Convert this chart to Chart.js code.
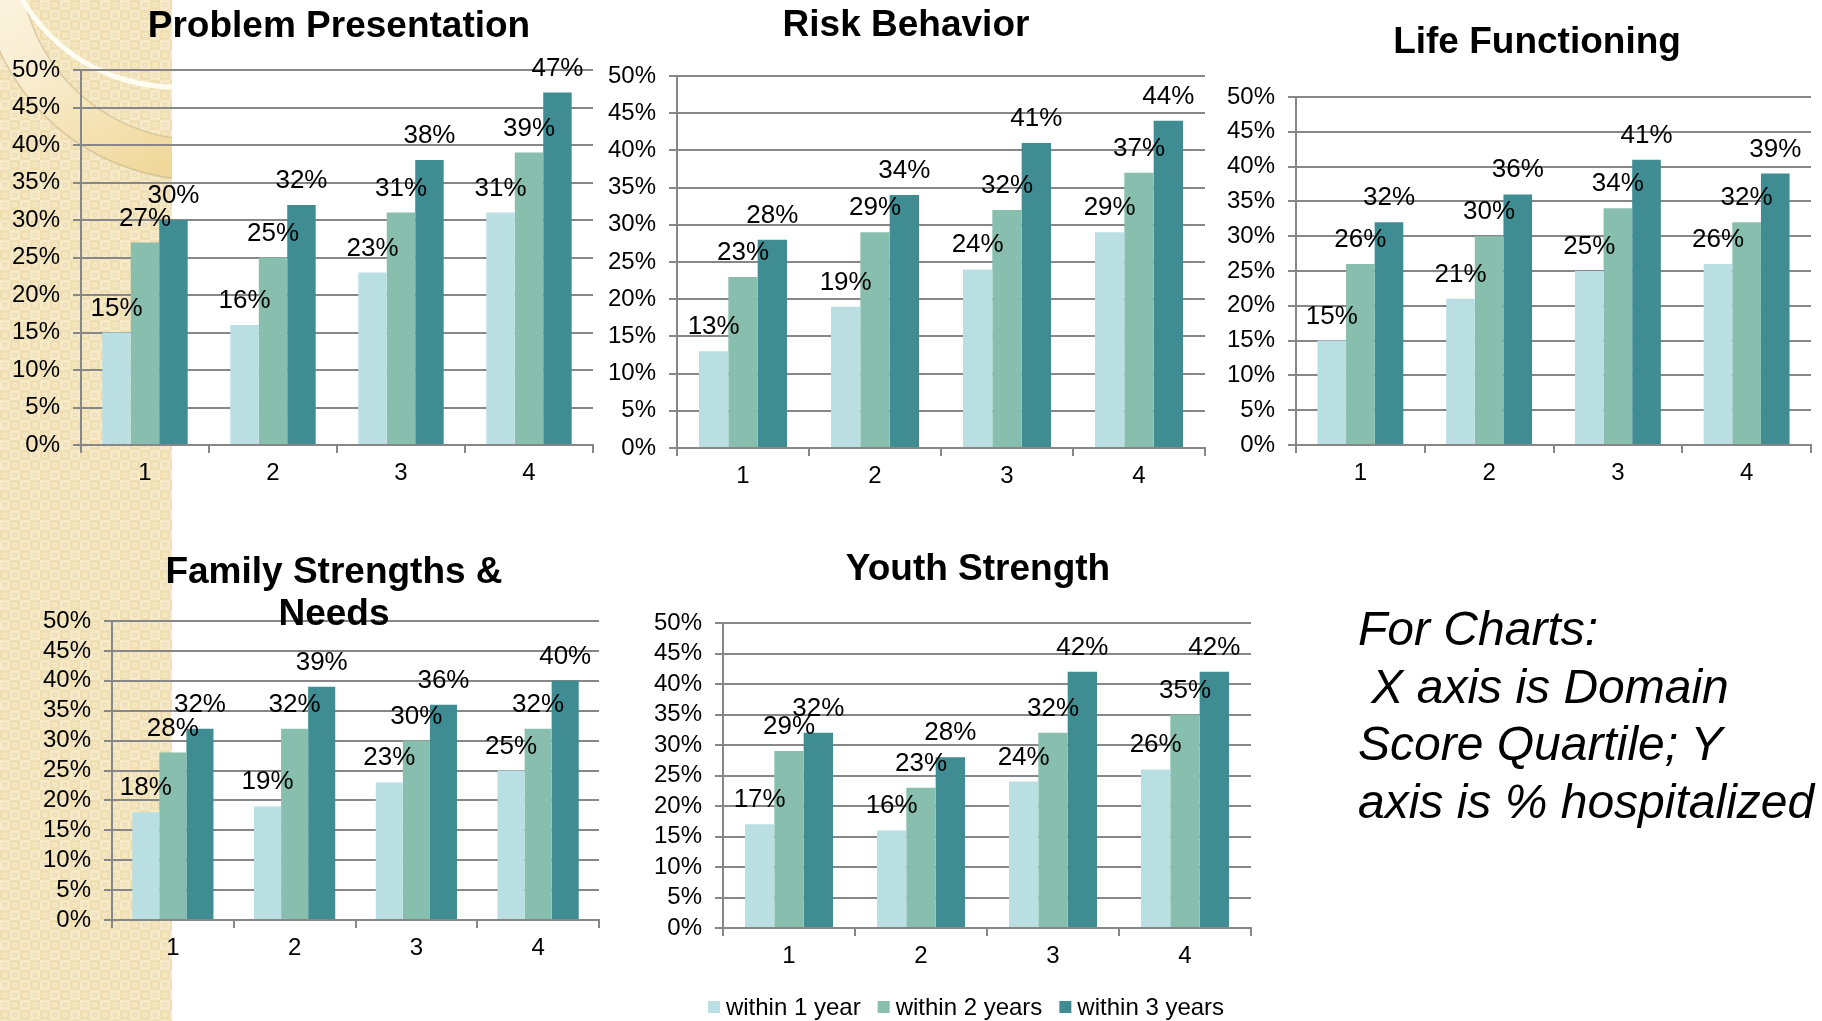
<!DOCTYPE html>
<html>
<head>
<meta charset="utf-8">
<title>Hospitalization by Domain Score Quartile</title>
<script src="https://cdn.jsdelivr.net/npm/chart.js@4/dist/chart.umd.min.js"></script>
<style>
  html, body { margin: 0; padding: 0; background: #ffffff; width: 1822px; height: 1021px; overflow: hidden; }
  canvas { position: absolute; left: 0; top: 0; }
  #note {
    position: absolute; left: 1358px; top: 600px;
    font: italic 48px/57.5px "Liberation Sans", Arial, sans-serif;
    color: #000; white-space: pre;
  }
</style>
</head>
<body>
<canvas id="bg" width="1822" height="1021"></canvas>
<canvas id="chartProblem" width="1822" height="1021"></canvas>
<canvas id="chartRisk" width="1822" height="1021"></canvas>
<canvas id="chartLife" width="1822" height="1021"></canvas>
<canvas id="chartFamily" width="1822" height="1021"></canvas>
<canvas id="chartYouth" width="1822" height="1021"></canvas>
<div id="note">For Charts:
 X axis is Domain
Score Quartile; Y
axis is % hospitalized</div>

<script>
// ---- data: % hospitalized by domain score quartile ----
const quartiles = ['1', '2', '3', '4'];
const seriesNames = ['within 1 year', 'within 2 years', 'within 3 years'];
const yTickStep = 5;
const yMax = 50;

const problem1yr = [15, 16, 23, 31];
const problem2yr = [27, 25, 31, 39];
const problem3yr = [30, 32, 38, 47];

const risk1yr = [13, 19, 24, 29];
const risk2yr = [23, 29, 32, 37];
const risk3yr = [28, 34, 41, 44];

const life1yr = [15, 21, 25, 26];
const life2yr = [26, 30, 34, 32];
const life3yr = [32, 36, 41, 39];

const family1yr = [18, 19, 23, 25];
const family2yr = [28, 32, 30, 32];
const family3yr = [32, 39, 36, 40];

const youth1yr = [17, 16, 24, 26];
const youth2yr = [29, 23, 32, 35];
const youth3yr = [32, 28, 42, 42];

// ---- styling ----
const W = 1822, H = 1021;
const FONT = '"Liberation Sans", Arial, Helvetica, sans-serif';
const seriesColors = ['#B9DFE3', '#88BEAD', '#3F8C93'];
const GRID = '#878787';
const Y_W = 90;   // width reserved for the y axis
const X_H = 60;   // height reserved for the x axis

// ---- background strip with ornament ----
(function drawBackground() {
  const ctx = document.getElementById('bg').getContext('2d');
  const STRIP = 172;
  ctx.save();
  ctx.beginPath(); ctx.rect(0, 0, STRIP, H); ctx.clip();
  ctx.fillStyle = '#F3E4BD';
  ctx.fillRect(0, 0, STRIP, H);
  // small tiled squares
  for (let y = 0; y < H; y += 10) {
    for (let x = 0; x < STRIP; x += 10) {
      const odd = ((x + y) / 10) % 2 === 1;
      ctx.fillStyle = odd ? '#F0DFB3' : '#F6E9C7';
      ctx.fillRect(x, y, 10, 10);
      ctx.strokeStyle = odd ? 'rgba(250,240,214,0.8)' : 'rgba(226,206,160,0.55)';
      ctx.lineWidth = 1;
      ctx.strokeRect(x + 3.5, y + 3.5, 3, 3);
    }
  }
  // ring
  const cx = 200, cy = -40;
  const grad = ctx.createLinearGradient(0, -40, 120, 190);
  grad.addColorStop(0, '#FCF6E6');
  grad.addColorStop(0.5, '#F7EBCB');
  grad.addColorStop(1, '#F0D89A');
  ctx.beginPath();
  ctx.arc(cx, cy, 220, 0, Math.PI * 2);
  ctx.arc(cx, cy, 180, 0, Math.PI * 2, true);
  ctx.fillStyle = grad;
  ctx.fill();
  ctx.strokeStyle = 'rgba(200,180,140,0.6)';
  ctx.lineWidth = 1.5;
  ctx.beginPath(); ctx.arc(cx, cy, 220, 0, Math.PI * 2); ctx.stroke();
  ctx.beginPath(); ctx.arc(cx, cy, 180, 0, Math.PI * 2); ctx.stroke();
  // bright inner arc
  ctx.strokeStyle = 'rgba(255,253,244,0.95)';
  ctx.lineWidth = 5;
  ctx.beginPath(); ctx.arc(175, -90, 177, 0, Math.PI * 2); ctx.stroke();
  ctx.restore();
})();

// ---- plugins ----
const panelTitle = {
  id: 'panelTitle',
  afterDraw(chart, args, o) {
    const ctx = chart.ctx;
    ctx.save();
    ctx.font = 'bold 37px ' + FONT;
    ctx.fillStyle = '#000';
    ctx.textAlign = 'center';
    ctx.textBaseline = 'alphabetic';
    o.lines.forEach((line, i) => ctx.fillText(line, o.x, o.y + i * o.lineHeight));
    ctx.restore();
  }
};

const valueLabels = {
  id: 'valueLabels',
  afterDatasetsDraw(chart, args, o) {
    const ctx = chart.ctx;
    ctx.save();
    ctx.font = '26px ' + FONT;
    ctx.fillStyle = '#000';
    ctx.textAlign = 'center';
    ctx.textBaseline = 'alphabetic';
    chart.data.datasets.forEach((ds, i) => {
      chart.getDatasetMeta(i).data.forEach((bar, j) => {
        ctx.fillText(ds.data[j] + '%', bar.x, bar.y - o.gap);
      });
    });
    ctx.restore();
  }
};

const seriesKey = {
  id: 'seriesKey',
  afterDraw(chart, args, o) {
    if (!o.show) return;
    const ctx = chart.ctx;
    ctx.save();
    ctx.font = '24px ' + FONT;
    ctx.textBaseline = 'middle';
    ctx.textAlign = 'left';
    const box = 12, gap = 6, spacing = 17;
    const items = chart.data.datasets.map(ds => ({ label: ds.label, color: ds.backgroundColor, w: box + gap + ctx.measureText(ds.label).width }));
    const total = items.reduce((s, it) => s + it.w, 0) + spacing * (items.length - 1);
    let x = o.cx - total / 2;
    items.forEach(it => {
      ctx.fillStyle = it.color;
      ctx.fillRect(x, o.cy - box / 2, box, box);
      ctx.fillStyle = '#000';
      ctx.fillText(it.label, x + box + gap, o.cy + 1);
      x += it.w + spacing;
    });
    ctx.restore();
  }
};

// ---- panel builder ----
function makePanel(canvasId, titleLines, titlePos, series, plot, showKey) {
  const tickFont = { family: FONT, size: 24 };
  return new Chart(document.getElementById(canvasId), {
    type: 'bar',
    data: {
      labels: quartiles,
      datasets: seriesNames.map((name, i) => ({
        label: name,
        data: series[i],
        backgroundColor: seriesColors[i],
        borderWidth: 0,
        barPercentage: 1,
        categoryPercentage: 0.667
      }))
    },
    options: {
      responsive: false,
      animation: false,
      devicePixelRatio: 1,
      events: [],
      layout: {
        padding: {
          left: plot.left - Y_W,
          top: plot.top,
          right: W - plot.right,
          bottom: H - plot.bottom - X_H
        }
      },
      plugins: {
        legend: { display: false },
        tooltip: { enabled: false },
        title: { display: false },
        panelTitle: { lines: titleLines, x: titlePos.x, y: titlePos.y, lineHeight: 42 },
        valueLabels: { gap: 17 },
        seriesKey: { show: showKey, cx: 966, cy: 1007 }
      },
      scales: {
        x: {
          offset: true,
          grid: { display: true, offset: true, drawOnChartArea: false, drawTicks: true, tickLength: 8, color: GRID, lineWidth: 2 },
          border: { display: true, color: GRID, width: 2 },
          ticks: { font: tickFont, color: '#000', padding: 6 },
          afterFit: s => { s.height = X_H; }
        },
        y: {
          min: 0,
          max: yMax,
          grid: { color: GRID, lineWidth: 2, drawTicks: true, tickLength: 8 },
          border: { display: true, color: GRID, width: 2 },
          ticks: { stepSize: yTickStep, autoSkip: false, font: tickFont, color: '#000', padding: 13, callback: v => v + '%' },
          afterFit: s => { s.width = Y_W; }
        }
      }
    },
    plugins: [valueLabels, panelTitle, seriesKey]
  });
}

makePanel('chartProblem', ['Problem Presentation'], { x: 339, y: 37 },
  [problem1yr, problem2yr, problem3yr], { left: 81, right: 593, top: 70, bottom: 445 }, false);
makePanel('chartRisk', ['Risk Behavior'], { x: 906, y: 36 },
  [risk1yr, risk2yr, risk3yr], { left: 677, right: 1205, top: 76, bottom: 448 }, false);
makePanel('chartLife', ['Life Functioning'], { x: 1537, y: 53 },
  [life1yr, life2yr, life3yr], { left: 1296, right: 1811, top: 97, bottom: 445 }, false);
makePanel('chartFamily', ['Family Strengths &', 'Needs'], { x: 334, y: 583 },
  [family1yr, family2yr, family3yr], { left: 112, right: 599, top: 621, bottom: 920 }, false);
makePanel('chartYouth', ['Youth Strength'], { x: 978, y: 580 },
  [youth1yr, youth2yr, youth3yr], { left: 723, right: 1251, top: 623, bottom: 928 }, true);
</script>
</body>
</html>
